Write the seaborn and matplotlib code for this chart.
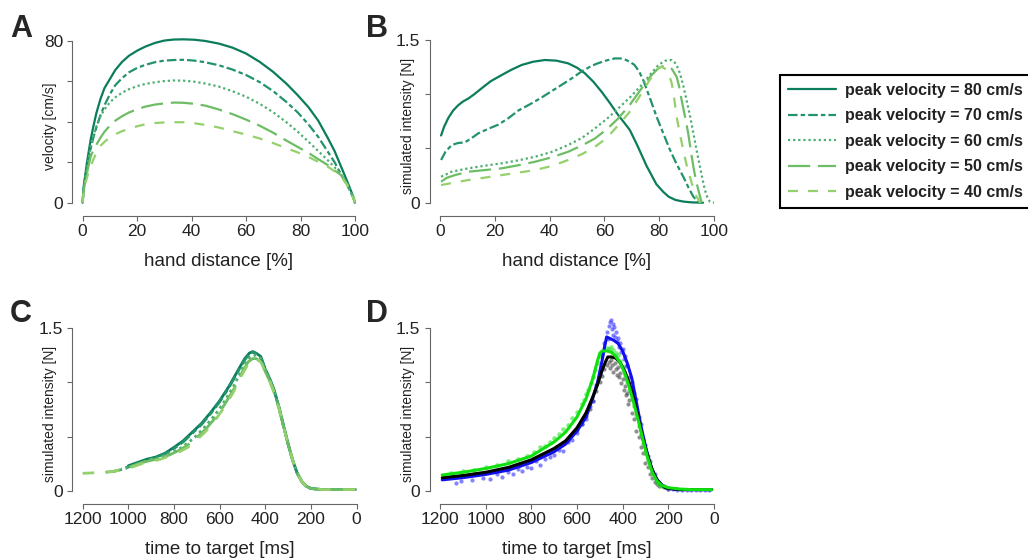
import seaborn as sns
import matplotlib
matplotlib.use('Agg')
import matplotlib.pyplot as plt

# --- data ---
velocities = [80, 70, 60, 50, 40]
legend_labels = [f'peak velocity = {v} cm/s' for v in velocities]

# A: velocity vs hand distance
a_x = [0, 0.25, 0.5, 1, 1.5, 2.2, 3, 4, 5, 6.5, 8, 10, 12, 14.5, 17, 20, 23, 26.5, 30, 33.5,
       37, 41, 45, 50, 55, 60, 65, 70, 75, 79, 83, 86.5, 90, 92.5, 95, 97, 98.5, 99.5, 100]
a_v80 = [0, 6, 9, 14, 19, 25, 31.5, 38, 44, 51, 56.5, 61, 65.5, 69.5, 72.5, 75, 77, 78.8, 80, 80.5,
         80.6, 80.4, 79.8, 78.5, 76.5, 73.6, 69.5, 64.5, 58.5, 53, 47, 40.5, 32, 25.5, 17.5, 11, 6, 2.5, 0]
a_v70 = [0, 5.5, 8.5, 13, 17, 21.5, 27, 32.5, 37, 43, 48, 53.5, 58, 61.5, 64.3, 66.5, 68, 69.3, 70.1, 70.4,
         70.5, 70.1, 69.3, 67.8, 65.7, 63, 59.5, 55, 49.5, 44.5, 38.5, 32.5, 25.2, 20, 13.7, 9, 5, 2, 0]
a_v60 = [0, 5, 8, 12.5, 16, 22, 28, 33, 37.5, 42.5, 46, 49.5, 52, 54.3, 56, 57.5, 58.6, 59.4, 60, 60.3,
         60.2, 59.7, 58.8, 57.3, 55, 52.3, 48.8, 44.6, 39.5, 35, 30, 25.5, 21, 17.5, 13.7, 9.5, 5, 2, 0]
a_v50 = [0, 4.5, 7, 11, 14, 18.5, 23, 26, 28.5, 32, 35, 38, 40.5, 42.7, 44.5, 46.1, 47.4, 48.4, 49, 49.4,
         49.3, 48.8, 47.9, 46, 43.7, 41, 38, 34.5, 30.5, 27.5, 24.5, 21.5, 18.6, 16, 13.5, 9.5, 5, 2, 0]
a_v40 = [0, 4, 6, 9.5, 12, 15, 18, 21.5, 24.5, 28, 30, 32.2, 33.8, 35.3, 36.5, 37.7, 38.7, 39.3, 39.6, 39.7,
         39.7, 39.2, 38.4, 37.1, 35.3, 33.6, 31.7, 29.4, 26.8, 24.8, 22.5, 20.2, 17.8, 15.5, 12.8, 9, 5, 2, 0]

# B: simulated intensity vs hand distance
b_x80 = [0.4, 1.5, 3, 4.8, 6.7, 8.5, 10.3, 12.5, 15.2, 18.5, 22.5, 26, 29.8, 34, 38.3, 42.5, 46.8, 50, 52.9, 56,
         59, 62, 65, 67.2, 69.3, 72, 75.4, 79, 81.5, 83.5, 86, 89, 92, 96]
b_i80 = [0.62, 0.70, 0.78, 0.85, 0.90, 0.935, 0.96, 1.0, 1.055, 1.12, 1.177, 1.225, 1.27, 1.30, 1.316, 1.31, 1.285, 1.245, 1.193, 1.115,
         1.023, 0.92, 0.81, 0.74, 0.67, 0.53, 0.34, 0.17, 0.10, 0.055, 0.025, 0.01, 0.003, 0.0]
b_x70 = [0.4, 2, 4.3, 6.5, 9.1, 11.5, 14, 17.5, 21.3, 25, 28.6, 33, 37.1, 40.5, 44, 48, 51.7, 54.5, 57, 60.5,
         63.9, 66, 67.5, 69.3, 71, 72.7, 74.2, 76.7, 79.1, 81.5, 83.9, 86.3, 88.8, 90.7, 92.5, 94.5]
b_i70 = [0.394, 0.47, 0.532, 0.55, 0.557, 0.595, 0.64, 0.68, 0.72, 0.78, 0.85, 0.91, 0.97, 1.025, 1.08, 1.145, 1.21, 1.25, 1.28, 1.31,
         1.331, 1.33, 1.32, 1.30, 1.27, 1.21, 1.13, 0.96, 0.79, 0.64, 0.49, 0.36, 0.24, 0.14, 0.055, 0.0]
b_x60 = [0.4, 4.3, 10.3, 16, 22.5, 28.5, 34.7, 41, 46.8, 52, 56.6, 61, 65.1, 69.5, 73.6, 77, 79.7, 82.3, 84.6, 86.2,
         87.6, 88.8, 90, 91.3, 92.5, 93.7, 94.9, 95.8, 96.7, 97.6, 98.5, 100]
b_i60 = [0.24, 0.286, 0.317, 0.34, 0.363, 0.39, 0.424, 0.47, 0.532, 0.60, 0.686, 0.775, 0.87, 0.975, 1.085, 1.19, 1.27, 1.31, 1.316, 1.28,
         1.193, 1.08, 0.947, 0.795, 0.64, 0.48, 0.332, 0.22, 0.117, 0.05, 0.01, 0.0]
b_x50 = [0.4, 2.5, 5.5, 10.3, 16, 22.5, 28.5, 34.7, 41, 46.8, 52, 56.6, 61, 65.1, 69.5, 73.6, 77, 79.7, 81.3, 82.7,
         84.6, 86.4, 87.3, 88.2, 89.4, 90.6, 91.5, 92.5, 93.4, 94.3, 95.5]
b_i50 = [0.194, 0.23, 0.255, 0.286, 0.30, 0.317, 0.345, 0.378, 0.42, 0.47, 0.53, 0.593, 0.68, 0.778, 0.91, 1.055, 1.17, 1.24, 1.258, 1.26,
         1.235, 1.16, 1.07, 0.947, 0.80, 0.64, 0.49, 0.33, 0.21, 0.117, 0.0]
b_x40 = [0.4, 5, 10.3, 16, 22.5, 28.5, 34.7, 41, 46.8, 52, 56.6, 61, 65.1, 69, 72.4, 75.5, 78.5, 80, 80.9, 82.5,
         83.6, 84.6, 85.5, 86.4, 87.6, 88.8, 90, 91.2, 92.5, 93.7, 95]
b_i40 = [0.163, 0.185, 0.209, 0.23, 0.255, 0.277, 0.301, 0.34, 0.394, 0.45, 0.516, 0.60, 0.716, 0.83, 0.962, 1.09, 1.208, 1.245, 1.254, 1.23,
         1.18, 1.10, 0.96, 0.79, 0.63, 0.486, 0.35, 0.24, 0.13, 0.055, 0.0]

# C: simulated intensity vs time to target
c_t80 = [1000, 960, 920, 880, 840, 800, 760, 720, 680, 640, 600, 560, 520, 490, 470, 455, 440, 420, 400, 380,
         360, 340, 320, 300, 280, 260, 240, 220, 200, 150, 100, 50, 5]
c_i80 = [0.23, 0.26, 0.29, 0.31, 0.345, 0.40, 0.46, 0.54, 0.62, 0.72, 0.83, 0.96, 1.11, 1.22, 1.27, 1.285, 1.27, 1.24, 1.12, 1.03,
         0.92, 0.77, 0.60, 0.43, 0.28, 0.16, 0.085, 0.04, 0.02, 0.01, 0.01, 0.01, 0.01]
c_t70 = [1030, 1000, 960, 920, 880, 840, 800, 760, 720, 680, 640, 600, 560, 520, 490, 470, 455, 440, 420, 400,
         380, 360, 340, 320, 300, 280, 260, 240, 220, 200, 150, 100, 50, 5]
c_i70 = [0.20, 0.22, 0.25, 0.28, 0.31, 0.34, 0.39, 0.45, 0.53, 0.61, 0.71, 0.82, 0.95, 1.10, 1.21, 1.26, 1.28, 1.265, 1.235, 1.12,
         1.03, 0.92, 0.77, 0.60, 0.43, 0.28, 0.16, 0.085, 0.04, 0.02, 0.01, 0.01, 0.01, 0.01]
c_t60 = [1060, 1020, 980, 940, 900, 860, 820, 780, 740, 700, 660, 620, 580, 540, 500, 475, 455, 440, 420, 400,
         380, 360, 340, 320, 300, 280, 260, 240, 220, 200, 150, 100, 50, 5]
c_i60 = [0.18, 0.20, 0.23, 0.26, 0.29, 0.31, 0.34, 0.38, 0.44, 0.51, 0.60, 0.70, 0.82, 0.96, 1.13, 1.22, 1.25, 1.25, 1.22, 1.11,
         1.02, 0.91, 0.76, 0.59, 0.43, 0.28, 0.16, 0.085, 0.04, 0.02, 0.01, 0.01, 0.01, 0.01]
c_t50 = [1100, 1060, 1020, 980, 940, 900, 860, 820, 780, 740, 700, 660, 620, 580, 540, 500, 475, 455, 440, 420,
         400, 380, 360, 340, 320, 300, 280, 260, 240, 220, 200, 150, 100, 50, 5]
c_i50 = [0.17, 0.18, 0.20, 0.23, 0.26, 0.28, 0.30, 0.33, 0.37, 0.42, 0.49, 0.57, 0.67, 0.79, 0.93, 1.10, 1.19, 1.22, 1.22, 1.20,
         1.10, 1.01, 0.90, 0.76, 0.59, 0.43, 0.28, 0.16, 0.085, 0.04, 0.02, 0.01, 0.01, 0.01, 0.01]
c_t40 = [1200, 1150, 1100, 1060, 1020, 980, 940, 900, 860, 820, 780, 740, 700, 660, 620, 580, 540, 500, 475, 455,
         440, 420, 400, 380, 360, 340, 320, 300, 280, 260, 240, 220, 200, 150, 100, 50, 5]
c_i40 = [0.16, 0.165, 0.17, 0.18, 0.20, 0.22, 0.25, 0.27, 0.29, 0.32, 0.355, 0.40, 0.47, 0.55, 0.65, 0.77, 0.91, 1.08, 1.17, 1.21,
         1.215, 1.19, 1.10, 1.01, 0.90, 0.76, 0.59, 0.43, 0.28, 0.16, 0.085, 0.04, 0.02, 0.01, 0.01, 0.01, 0.01]

# D: fitted curves
d_t_blue = [1190, 1100, 1000, 900, 800, 700, 650, 600, 560, 530, 510, 490, 480, 470, 460, 440, 420, 400, 380, 360,
            340, 320, 300, 280, 260, 240, 220, 200, 150, 100, 10]
d_i_blue = [0.10, 0.12, 0.15, 0.19, 0.26, 0.36, 0.43, 0.55, 0.68, 0.86, 1.0, 1.2, 1.32, 1.42, 1.41, 1.39, 1.36, 1.29, 1.18, 1.04,
            0.82, 0.60, 0.41, 0.25, 0.14, 0.075, 0.04, 0.02, 0.01, 0.01, 0.01]
d_t_black = [1190, 1100, 1000, 900, 800, 700, 650, 600, 560, 530, 510, 490, 475, 465, 450, 430, 410, 390, 370, 350,
             330, 310, 290, 270, 250, 230, 210, 150, 100, 10]
d_i_black = [0.12, 0.14, 0.17, 0.215, 0.285, 0.39, 0.46, 0.58, 0.72, 0.87, 0.98, 1.11, 1.19, 1.235, 1.235, 1.225, 1.18, 1.10, 0.99, 0.84,
             0.66, 0.47, 0.32, 0.19, 0.10, 0.053, 0.025, 0.01, 0.01, 0.01]
d_t_green = [1190, 1100, 1000, 900, 800, 700, 650, 600, 560, 530, 510, 500, 490, 470, 450, 430, 410, 390, 370, 350,
             330, 310, 290, 270, 250, 230, 200, 150, 100, 10]
d_i_green = [0.145, 0.17, 0.205, 0.25, 0.32, 0.45, 0.54, 0.68, 0.85, 1.04, 1.2, 1.27, 1.29, 1.29, 1.28, 1.24, 1.18, 1.08, 0.95, 0.80,
             0.637, 0.46, 0.30, 0.17, 0.09, 0.05, 0.028, 0.015, 0.01, 0.01]

# D: measured dots
bd_t = [1130, 1110, 1060, 1010, 980, 950, 930, 900, 880, 860, 840, 820, 800, 780, 760, 740, 720, 700, 680, 660,
        640, 620, 600, 580, 560, 545, 530, 515, 500, 490, 480, 470, 465, 460, 455, 450, 447, 443, 440, 436,
        432, 428, 424, 420, 415, 410, 405, 400, 395, 390, 385, 380, 370, 360, 350, 340, 330, 320, 310, 300,
        290, 280, 270, 260, 250, 240, 230, 220, 200, 180, 160, 140, 120, 100, 80, 60, 40, 20]
bd_i = [0.07, 0.09, 0.10, 0.12, 0.11, 0.15, 0.13, 0.17, 0.15, 0.20, 0.18, 0.22, 0.21, 0.27, 0.24, 0.29, 0.31, 0.33, 0.38, 0.37,
        0.45, 0.47, 0.53, 0.62, 0.66, 0.78, 0.83, 0.98, 1.08, 1.25, 1.36, 1.47, 1.40, 1.52, 1.56, 1.58, 1.49, 1.54, 1.44, 1.51,
        1.42, 1.47, 1.38, 1.41, 1.33, 1.36, 1.28, 1.31, 1.22, 1.24, 1.15, 1.16, 1.05, 1.00, 0.90, 0.85, 0.68, 0.62, 0.48, 0.42,
        0.32, 0.27, 0.18, 0.15, 0.09, 0.08, 0.05, 0.04, 0.02, 0.015, 0.01, 0.01, 0.01, 0.01, 0.01, 0.01, 0.01, 0.01]
kd_t = [900, 850, 800, 760, 720, 690, 660, 640, 620, 600, 580, 560, 545, 530, 515, 500, 490, 480, 470, 460,
        455, 450, 445, 440, 435, 430, 425, 420, 415, 410, 405, 400, 395, 390, 385, 380, 375, 370, 360, 350,
        340, 330, 320, 310, 300, 290, 280, 270, 260, 250, 240, 220, 200]
kd_i = [0.20, 0.24, 0.27, 0.31, 0.35, 0.40, 0.44, 0.47, 0.52, 0.56, 0.62, 0.69, 0.75, 0.83, 0.92, 1.00, 1.06, 1.12, 1.16, 1.19,
        1.13, 1.21, 1.16, 1.10, 1.18, 1.12, 1.07, 1.14, 1.05, 1.09, 0.99, 1.03, 0.93, 0.97, 0.88, 0.90, 0.80, 0.84, 0.72, 0.66,
        0.55, 0.50, 0.40, 0.35, 0.26, 0.22, 0.15, 0.12, 0.08, 0.06, 0.04, 0.03, 0.015]
gd_t = [1150, 1100, 1050, 1000, 950, 900, 860, 820, 790, 760, 740, 720, 700, 680, 660, 640, 620, 600, 580, 570,
        560, 550, 540, 530, 520, 510, 500, 490, 480, 470, 460, 450, 440, 430, 420, 410, 400, 390, 380, 370,
        360, 350, 340, 330, 320, 310, 300, 290, 280, 270, 260, 250, 240, 230, 220]
gd_i = [0.16, 0.18, 0.19, 0.22, 0.24, 0.27, 0.29, 0.32, 0.36, 0.40, 0.41, 0.45, 0.49, 0.52, 0.57, 0.61, 0.67, 0.73, 0.80, 0.84,
        0.89, 0.93, 0.99, 1.05, 1.11, 1.18, 1.24, 1.27, 1.30, 1.32, 1.31, 1.33, 1.30, 1.27, 1.25, 1.20, 1.14, 1.07, 1.00, 0.93,
        0.85, 0.78, 0.70, 0.60, 0.52, 0.43, 0.35, 0.28, 0.22, 0.16, 0.12, 0.08, 0.06, 0.04, 0.03]

# --- style ---
greens = ['#0b7d5c', '#23936a', '#4cae70', '#6dbd64', '#94d06c']
styles = ['-', (0, (4.3, 1.4, 2.0, 1.4)), (0, (1.0, 1.3)), (0, (10, 3.5)), (0, (4.5, 4.5))]

sns.set_style('ticks')
plt.rcParams['font.family'] = ['Liberation Sans', 'DejaVu Sans']
plt.rcParams['axes.edgecolor'] = '#666666'
plt.rcParams['xtick.color'] = '#666666'
plt.rcParams['ytick.color'] = '#666666'
plt.rcParams['xtick.labelcolor'] = '#222222'
plt.rcParams['ytick.labelcolor'] = '#222222'
plt.rcParams['xtick.labelsize'] = 12.5
plt.rcParams['ytick.labelsize'] = 12.5
plt.rcParams['xtick.major.size'] = 3.6
plt.rcParams['ytick.major.size'] = 3.6
plt.rcParams['xtick.major.pad'] = 2
plt.rcParams['ytick.major.pad'] = 3

fig = plt.figure(figsize=(10.28, 5.6), dpi=100)
ax_a = fig.add_axes([0.0804, 0.638, 0.2649, 0.2896])
ax_b = fig.add_axes([0.428, 0.638, 0.2665, 0.2905])
ax_c = fig.add_axes([0.0804, 0.1238, 0.2665, 0.29])
ax_d = fig.add_axes([0.428, 0.1238, 0.2665, 0.29])

# A
for y, col, ls, lab in zip([a_v80, a_v70, a_v60, a_v50, a_v40], greens, styles, legend_labels):
    sns.lineplot(x=a_x, y=y, ax=ax_a, color=col, linestyle=ls, linewidth=1.6, label=lab, clip_on=False)

# B
b_data = [(b_x80, b_i80), (b_x70, b_i70), (b_x60, b_i60), (b_x50, b_i50), (b_x40, b_i40)]
for (x, y), col, ls in zip(b_data, greens, styles):
    sns.lineplot(x=x, y=y, ax=ax_b, color=col, linestyle=ls, linewidth=1.6, clip_on=False)

# C
c_data = [(c_t80, c_i80), (c_t70, c_i70), (c_t60, c_i60), (c_t50, c_i50), (c_t40, c_i40)]
for (x, y), col, ls in zip(c_data, greens, styles):
    sns.lineplot(x=x, y=y, ax=ax_c, color=col, linestyle=ls, linewidth=2.0, clip_on=False)

# D
sns.scatterplot(x=kd_t, y=kd_i, ax=ax_d, color='#333333', s=9, alpha=0.55, linewidth=0, clip_on=False)
sns.scatterplot(x=bd_t, y=bd_i, ax=ax_d, color='#3030ff', s=9, alpha=0.6, linewidth=0, clip_on=False)
sns.scatterplot(x=gd_t, y=gd_i, ax=ax_d, color='#30e030', s=11, alpha=0.6, linewidth=0, clip_on=False)
sns.lineplot(x=d_t_blue, y=d_i_blue, ax=ax_d, color='#1010ee', linewidth=2.2, clip_on=False)
sns.lineplot(x=d_t_black, y=d_i_black, ax=ax_d, color='#000000', linewidth=2.2, clip_on=False)
sns.lineplot(x=d_t_green, y=d_i_green, ax=ax_d, color='#10e010', linewidth=2.2, clip_on=False)

for ax in [ax_a, ax_b, ax_c, ax_d]:
    if ax.get_legend():
        ax.get_legend().remove()

# axes
ax_a.set_xlim(0, 100)
ax_a.set_ylim(0, 80)
ax_a.set_xticks([0, 20, 40, 60, 80, 100])
ax_a.set_yticks([0, 20, 40, 60, 80])
ax_a.set_yticklabels(['0', '', '', '', '80'])
ax_a.set_ylabel('velocity [cm/s]', fontsize=10)
ax_a.set_xlabel('hand distance [%]', fontsize=13.5)

ax_b.set_xlim(0, 100)
ax_b.set_xticks([0, 20, 40, 60, 80, 100])
ax_b.set_xlabel('hand distance [%]', fontsize=13.5)

for ax in [ax_c, ax_d]:
    ax.set_xlim(1200, 0)
    ax.set_xticks([1200, 1000, 800, 600, 400, 200, 0])
    ax.set_xlabel('time to target [ms]', fontsize=13.5)

for ax in [ax_b, ax_c, ax_d]:
    ax.set_ylim(0, 1.5)
    ax.set_yticks([0, 0.5, 1.0, 1.5])
    ax.set_yticklabels(['0', '', '', '1.5'])
    ax.set_ylabel('simulated intensity [N]', fontsize=10)

for ax in [ax_a, ax_b, ax_c, ax_d]:
    sns.despine(ax=ax, offset=dict(left=7.5, bottom=9.5))
    xt, yt = ax.get_xticks(), ax.get_yticks()
    ax.spines['bottom'].set_bounds(min(xt), max(xt))
    ax.spines['left'].set_bounds(min(yt), max(yt))
    ax.yaxis.set_label_coords(-0.093, 0.47)
    ax.xaxis.set_label_coords(0.5, -0.31)
    ax.xaxis.label.set_color('#222222')
    ax.yaxis.label.set_color('#222222')

# panel letters
for lab, x, y in [('A', 10, 37), ('B', 366, 37), ('C', 10, 322), ('D', 366, 322)]:
    fig.text(x / 1028, 1 - y / 560, lab, fontsize=22, fontweight='bold', va='baseline', ha='left')

# legend
handles = ax_a.get_lines()[:5]
leg = fig.legend(handles, legend_labels, loc='upper left', bbox_to_anchor=(780 / 1028, 1 - 75 / 560),
                 borderaxespad=0, frameon=True, fancybox=False, framealpha=1, edgecolor='black',
                 prop={'size': 11.5, 'weight': 'bold'}, handlelength=3.0, handletextpad=0.6,
                 labelspacing=0.65, borderpad=0.5)
leg.get_frame().set_linewidth(1.5)
for t in leg.get_texts():
    t.set_color('#222222')

plt.savefig('out.png', dpi=100)
